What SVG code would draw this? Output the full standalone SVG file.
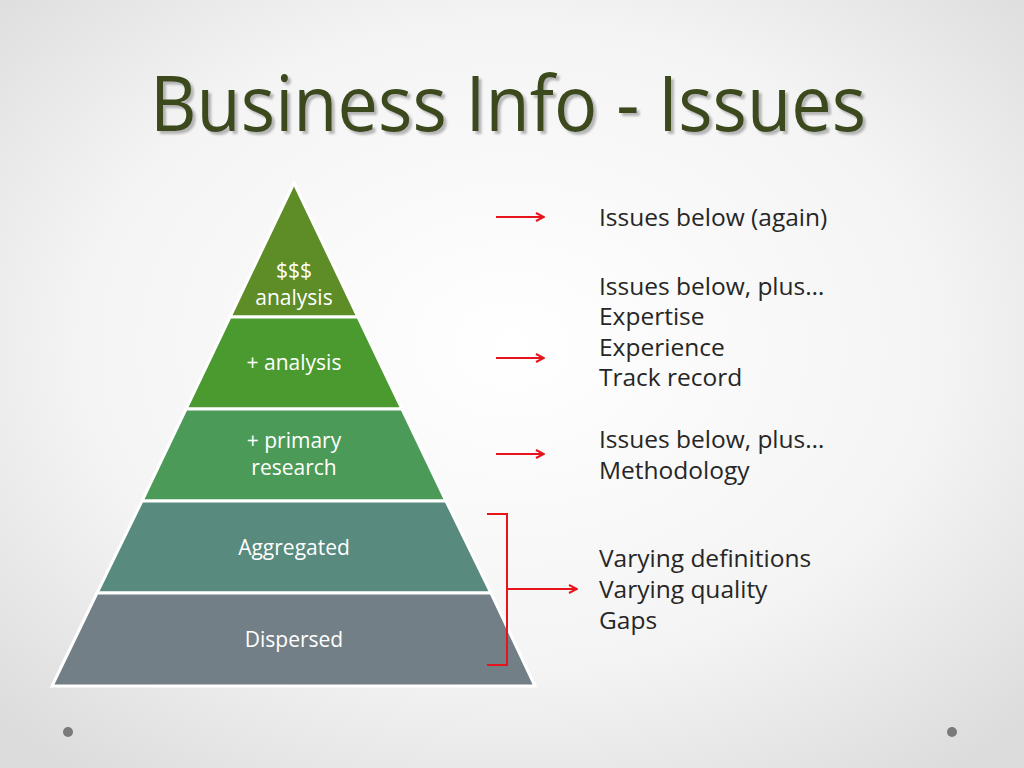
<svg xmlns="http://www.w3.org/2000/svg" width="1024" height="768" viewBox="0 0 1024 768">
<defs>
<radialGradient id="bg" cx="50%" cy="45%" r="70%"><stop offset="0" stop-color="#ffffff"/><stop offset="0.6" stop-color="#f4f4f4"/><stop offset="1" stop-color="#dcdcdc"/></radialGradient>
<filter id="sh" x="-5%" y="-20%" width="110%" height="140%"><feDropShadow dx="3" dy="3" stdDeviation="1" flood-color="#8a8a8a" flood-opacity="0.6"/></filter>
<marker id="ah" markerWidth="10" markerHeight="10" refX="9" refY="5" orient="auto" markerUnits="userSpaceOnUse"><path d="M1,1 L9,5 L1,9" fill="none" stroke="#e8141c" stroke-width="2"/></marker>
<style>
.lay{stroke:#fff;stroke-width:3}
.pt{font-family:"Open Sans","Liberation Sans",sans-serif;font-size:21px;fill:#fff;text-anchor:middle}
.rt{font-family:"Open Sans","Liberation Sans",sans-serif;font-size:24.5px;fill:#262626}
.ar{stroke:#e8141c;stroke-width:2;fill:none}
.tt{font-family:"Open Sans","Liberation Sans",sans-serif;font-size:76px}
</style>
</defs>
<rect width="1024" height="768" fill="url(#bg)"/>
<text class="tt" x="150" y="131" fill="#3b4a1c" filter="url(#sh)" textLength="716" lengthAdjust="spacingAndGlyphs">Business Info - Issues</text>
<g id="layer1"><polygon class="lay" points="294,183 358,317 230,317" fill="#5e8c26"/><text class="pt" x="294" y="278">$$$</text><text class="pt" x="294" y="305">analysis</text></g>
<g id="layer2"><polygon class="lay" points="230,317 358,317 402,409 186,409" fill="#4b9a30"/><text class="pt" x="294" y="370">+ analysis</text></g>
<g id="layer3"><polygon class="lay" points="186,409 402,409 446,501 142,501" fill="#4c9a58"/><text class="pt" x="294" y="448">+ primary</text><text class="pt" x="294" y="475">research</text></g>
<g id="layer4"><polygon class="lay" points="142,501 446,501 491,593 97,593" fill="#588a7e"/><text class="pt" x="294" y="555">Aggregated</text></g>
<g id="layer5"><polygon class="lay" points="97,593 491,593 535,686 52,686" fill="#737f86"/><text class="pt" x="294" y="647">Dispersed</text></g>
<g id="connectors">
<line class="ar" x1="496" y1="217" x2="544" y2="217" marker-end="url(#ah)"/>
<line class="ar" x1="496" y1="358" x2="544" y2="358" marker-end="url(#ah)"/>
<line class="ar" x1="496" y1="454" x2="544" y2="454" marker-end="url(#ah)"/>
<path class="ar" d="M487,514 L507,514 L507,665 L487,665"/>
<line class="ar" x1="507" y1="589" x2="577" y2="589" marker-end="url(#ah)"/>
</g>
<g id="labels">
<text class="rt" x="599" y="226">Issues below (again)</text>
<text class="rt" x="599" y="295">Issues below, plus…</text>
<text class="rt" x="599" y="325">Expertise</text>
<text class="rt" x="599" y="356">Experience</text>
<text class="rt" x="599" y="386">Track record</text>
<text class="rt" x="599" y="448">Issues below, plus…</text>
<text class="rt" x="599" y="479">Methodology</text>
<text class="rt" x="599" y="567">Varying definitions</text>
<text class="rt" x="599" y="598">Varying quality</text>
<text class="rt" x="599" y="629">Gaps</text>
</g>
<circle cx="68" cy="732" r="5" fill="#7a7a7a"/>
<circle cx="952" cy="732" r="5" fill="#7a7a7a"/>
</svg>
